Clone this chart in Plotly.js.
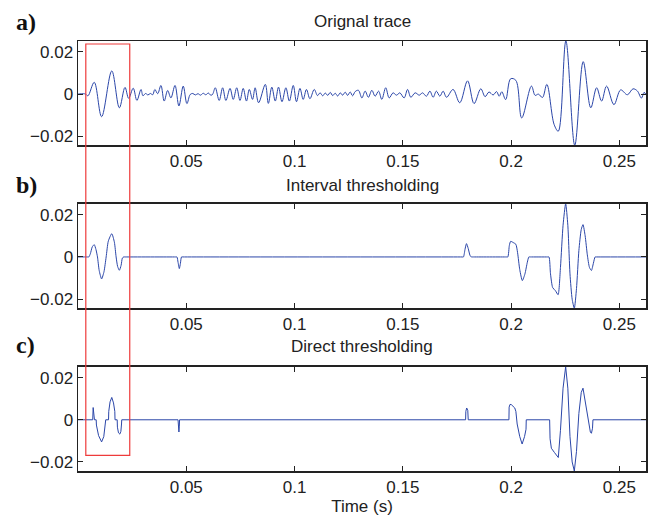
<!DOCTYPE html>
<html>
<head>
<meta charset="utf-8">
<script src="https://cdn.plot.ly/plotly-3.0.1.min.js"></script>
<style>html,body{margin:0;padding:0;background:#fff;}#chart{width:656px;height:517px;}</style>
</head>
<body>
<div id="chart"></div>
<script>
// ---- data ----
const panelTitles = ["Orignal trace", "Interval thresholding", "Direct thresholding"];
const panelLabels = ["a)", "b)", "c)"];
const xTickVals = [0.05, 0.1, 0.15, 0.2, 0.25];
const xTickText = ["0.05", "0.1", "0.15", "0.2", "0.25"];
const yTickVals = [-0.02, 0, 0.02];
const yTickText = ["\u22120.02", "0", "0.02"];
const xLabel = "Time (s)";

// (a) original trace: extrema (time s, amplitude)
const tA = [0.0000,0.0025,0.0035,0.0046,0.0075,0.0109,0.0156,0.0191,0.0217,0.0234,0.0255,0.0272,0.0291,0.0300,0.0312,0.0323,0.0334,0.0345,0.0355,0.0368,0.0383,0.0398,0.0414,0.0429,0.0448,0.0466,0.0486,0.0503,
0.0518,0.0530,0.0542,0.0554,0.0566,0.0578,0.0590,0.0602,0.0614,0.0622,0.0634,0.0652,
0.0668,0.0683,0.0702,0.0717,0.0733,0.0748,0.0763,0.0778,0.0791,0.0806,0.0818,0.0834,0.0865,0.0879,0.0895,0.0911,0.0926,0.0942,0.0960,0.0976,0.0994,0.1009,0.1025,0.1040,0.1055,0.1071,0.1091,0.1106,
0.1118,0.1130,0.1142,0.1153,0.1165,0.1176,0.1188,0.1199,0.1211,0.1222,0.1234,0.1245,0.1257,0.1268,0.1280,
0.1295,0.1311,0.1326,0.1341,0.1357,0.1372,0.1388,0.1403,0.1421,0.1437,0.1455,0.1471,0.1486,0.1506,0.1522,0.1537,0.1557,0.1576,0.1591,0.1609,0.1625,0.1640,0.1655,0.1671,0.1686,0.1702,0.1732,
0.1763,0.1799,0.1829,0.1860,0.1880,0.1898,0.1917,0.1933,0.1945,0.1957,0.1975,0.1998,0.2022,0.2049,0.2094,0.2111,0.2126,0.2145,0.2165,0.2199,0.2218,0.2253,0.2294,0.2333,0.2368,
0.2395,0.2418,0.2441,0.2475,0.2506,0.2537,0.2563,0.2583,0.2602,0.2614,0.2625];
const vA = [0.0000,0.0002,0.0000,-0.0008,0.0056,-0.0107,0.0110,-0.0065,0.0032,-0.0020,0.0028,-0.0030,0.0022,-0.0008,0.0003,-0.0004,0.0003,-0.0003,0.0022,0.0002,0.0041,-0.0033,0.0017,-0.0018,0.0041,-0.0056,0.0038,-0.0045,
-0.0002,0.0003,-0.0004,0.0002,-0.0005,0.0004,-0.0003,0.0005,-0.0006,0.0000,0.0030,-0.0030,
0.0030,-0.0030,0.0027,-0.0025,0.0030,-0.0030,0.0027,-0.0033,0.0022,-0.0025,0.0030,-0.0041,0.0046,-0.0044,0.0033,-0.0033,0.0033,-0.0036,0.0030,-0.0033,0.0041,-0.0036,0.0027,-0.0025,0.0022,-0.0022,0.0022,-0.0007,
0.0006,-0.0008,0.0005,-0.0006,0.0008,-0.0007,0.0004,-0.0009,0.0006,-0.0005,0.0009,-0.0006,0.0010,-0.0008,0.0012,
0.0018,-0.0018,0.0014,-0.0015,0.0018,-0.0010,0.0014,-0.0025,0.0030,-0.0018,0.0006,-0.0005,0.0006,-0.0018,0.0022,-0.0015,0.0006,-0.0005,0.0006,-0.0010,0.0014,-0.0015,0.0014,-0.0010,0.0014,-0.0015,0.0022,
-0.0041,0.0063,-0.0045,0.0025,-0.0012,0.0010,-0.0004,0.0012,-0.0010,0.0011,-0.0026,0.0073,0.0065,-0.0113,0.0038,-0.0006,0.0000,-0.0016,0.0046,-0.0145,-0.0176,0.0252,-0.0243,0.0154,-0.0065,
0.0030,-0.0033,0.0038,-0.0050,0.0020,-0.0003,0.0025,0.0015,-0.0019,0.0008,-0.0005];

// (b) interval thresholding
const tB = [0.0000,0.0043,0.0050,0.0057,0.0066,0.0075,0.0083,0.0090,0.0098,0.0109,0.0120,0.0130,0.0140,0.0156,0.0168,0.0176,0.0183,0.0191,0.0199,0.0205,0.0211,0.0218,
0.0450,0.0457,0.0462,0.0468,0.0473,0.0478,0.0485,
0.1773,0.1780,0.1787,0.1794,0.1802,0.1810,0.1816,0.1823,
0.1978,0.1985,0.1992,0.1998,0.2010,0.2022,0.2030,0.2040,0.2052,0.2064,0.2075,0.2082,0.2089,
0.2168,0.2175,0.2182,0.2192,0.2205,0.2217,0.2228,0.2240,0.2252,0.2262,0.2272,0.2282,0.2292,0.2302,0.2313,0.2324,0.2332,0.2342,0.2352,0.2362,0.2371,0.2380,0.2388,0.2395,0.2625];
const vB = [0.0000,0.0000,0.0000,0.0015,0.0048,0.0058,0.0035,0.0000,-0.0065,-0.0104,-0.0070,0.0000,0.0075,0.0110,0.0070,0.0000,-0.0045,-0.0063,-0.0040,-0.0005,0.0000,0.0000,
0.0000,0.0000,-0.0025,-0.0055,-0.0030,0.0000,0.0000,
0.0000,0.0000,0.0035,0.0063,0.0040,0.0008,0.0000,0.0000,
0.0000,0.0000,0.0055,0.0074,0.0068,0.0060,0.0020,-0.0060,-0.0112,-0.0080,-0.0025,0.0000,0.0000,
0.0000,0.0000,-0.0080,-0.0145,-0.0160,-0.0179,-0.0050,0.0150,0.0252,0.0150,-0.0080,-0.0200,-0.0243,-0.0150,0.0030,0.0130,0.0153,0.0100,0.0010,-0.0050,-0.0064,-0.0030,0.0000,0.0000,0.0000];

// (c) direct thresholding
const tC = [0.0000,0.0068,0.0070,0.0073,0.0076,0.0084,0.0085,0.0095,0.0109,0.0119,0.0126,0.0128,0.0141,0.0142,0.0148,0.0156,0.0164,0.0170,0.0171,0.0181,0.0182,0.0187,0.0193,0.0198,0.0201,0.0202,
0.0462,0.0464,0.0466,0.0468,0.0469,
0.1790,0.1791,0.1795,0.1800,0.1802,
0.1990,0.1991,0.1995,0.2001,0.2010,0.2017,0.2022,0.2026,0.2028,0.2040,0.2051,0.2062,0.2069,0.2070,
0.2178,0.2180,0.2186,0.2200,0.2218,0.2228,0.2240,0.2252,0.2262,0.2272,0.2282,0.2292,0.2302,0.2313,0.2324,0.2332,0.2342,0.2350,0.2356,0.2360,0.2366,0.2371,0.2376,0.2378,0.2625];
const vC = [0.0000,0.0000,0.0058,0.0005,0.0000,0.0000,-0.0025,-0.0075,-0.0105,-0.0080,-0.0030,0.0000,0.0000,0.0040,0.0085,0.0106,0.0080,0.0040,0.0000,0.0000,-0.0035,-0.0062,-0.0068,-0.0055,-0.0020,0.0000,
0.0000,-0.0045,-0.0058,-0.0030,0.0000,
0.0000,0.0040,0.0056,0.0045,0.0000,
0.0000,0.0060,0.0073,0.0072,0.0062,0.0056,0.0040,0.0005,-0.0020,-0.0080,-0.0115,-0.0080,-0.0045,0.0000,
0.0000,-0.0090,-0.0135,-0.0155,-0.0179,-0.0050,0.0150,0.0252,0.0150,-0.0080,-0.0200,-0.0243,-0.0150,0.0030,0.0130,0.0150,0.0090,0.0035,0.0005,-0.0030,-0.0058,-0.0064,-0.0040,0.0000,0.0000];

// ---- chart ----
const lineColor = "#2b46a8";
const traces = [
  {x: tA, y: vA, xaxis: "x", yaxis: "y", type: "scatter", mode: "lines", line: {color: lineColor, width: 1, shape: "spline", smoothing: 1}, hoverinfo: "skip"},
  {x: tB, y: vB, xaxis: "x2", yaxis: "y2", type: "scatter", mode: "lines", line: {color: lineColor, width: 1, shape: "spline", smoothing: 0.6}, hoverinfo: "skip"},
  {x: tC, y: vC, xaxis: "x3", yaxis: "y3", type: "scatter", mode: "lines", line: {color: lineColor, width: 1}, hoverinfo: "skip"}
];

const txtFont = "Liberation Sans, Arial, Helvetica, sans-serif";
const tickFont = {family: txtFont, size: 17, color: "#222"};
function xAx(anchor) {
  return {anchor: anchor, range: [0, 0.2623], tickvals: xTickVals, ticktext: xTickText,
    ticks: "inside", ticklen: 5, tickwidth: 1, tickcolor: "#222", showline: true, linecolor: "#222", linewidth: 1.5,
    mirror: "ticks", showgrid: false, zeroline: false, tickfont: tickFont, fixedrange: true};
}
function yAx(anchor, dom) {
  return {anchor: anchor, domain: dom, range: [-0.0243, 0.0252], tickvals: yTickVals, ticktext: yTickText,
    ticks: "inside", ticklen: 5, tickwidth: 1, tickcolor: "#222", showline: true, linecolor: "#222", linewidth: 1.5,
    mirror: "ticks", showgrid: false, zeroline: false, tickfont: tickFont, fixedrange: true};
}

const titleY = [1.0465, 0.6651, 0.2891];
const labelY = [1.045, 0.665, 0.292];
const annotations = [];
for (let i = 0; i < 3; i++) {
  annotations.push({text: panelTitles[i], xref: "paper", yref: "paper", x: 0.5, y: titleY[i], xanchor: "center", yanchor: "middle",
    showarrow: false, font: {family: txtFont, size: 17, color: "#222"}});
  annotations.push({text: "<b>" + panelLabels[i] + "</b>", xref: "paper", yref: "paper", x: -0.112, y: labelY[i], xanchor: "left", yanchor: "middle",
    showarrow: false, font: {family: "Liberation Serif, Times New Roman, serif", size: 24, color: "#111"}});
}

const layout = {
  width: 656, height: 517,
  margin: {l: 78, r: 10, t: 41, b: 46, pad: 0},
  paper_bgcolor: "#fff", plot_bgcolor: "#fff",
  showlegend: false,
  xaxis: xAx("y"), yaxis: yAx("x", [0.7574, 1]),
  xaxis2: xAx("y2"), yaxis2: yAx("x2", [0.3784, 0.6216]),
  xaxis3: Object.assign(xAx("y3"), {title: {text: xLabel, font: {family: txtFont, size: 17, color: "#222"}, standoff: 4}}),
  yaxis3: yAx("x3", [0, 0.2426]),
  annotations: annotations,
  shapes: [{type: "rect", xref: "x", yref: "paper", x0: 0.0036, x1: 0.0239, y0: 0.0365, y1: 0.993,
    line: {color: "#ee3b3b", width: 1.2}, fillcolor: "rgba(0,0,0,0)", layer: "above"}]
};

Plotly.newPlot("chart", traces, layout, {displayModeBar: false, staticPlot: true});
</script>
</body>
</html>
